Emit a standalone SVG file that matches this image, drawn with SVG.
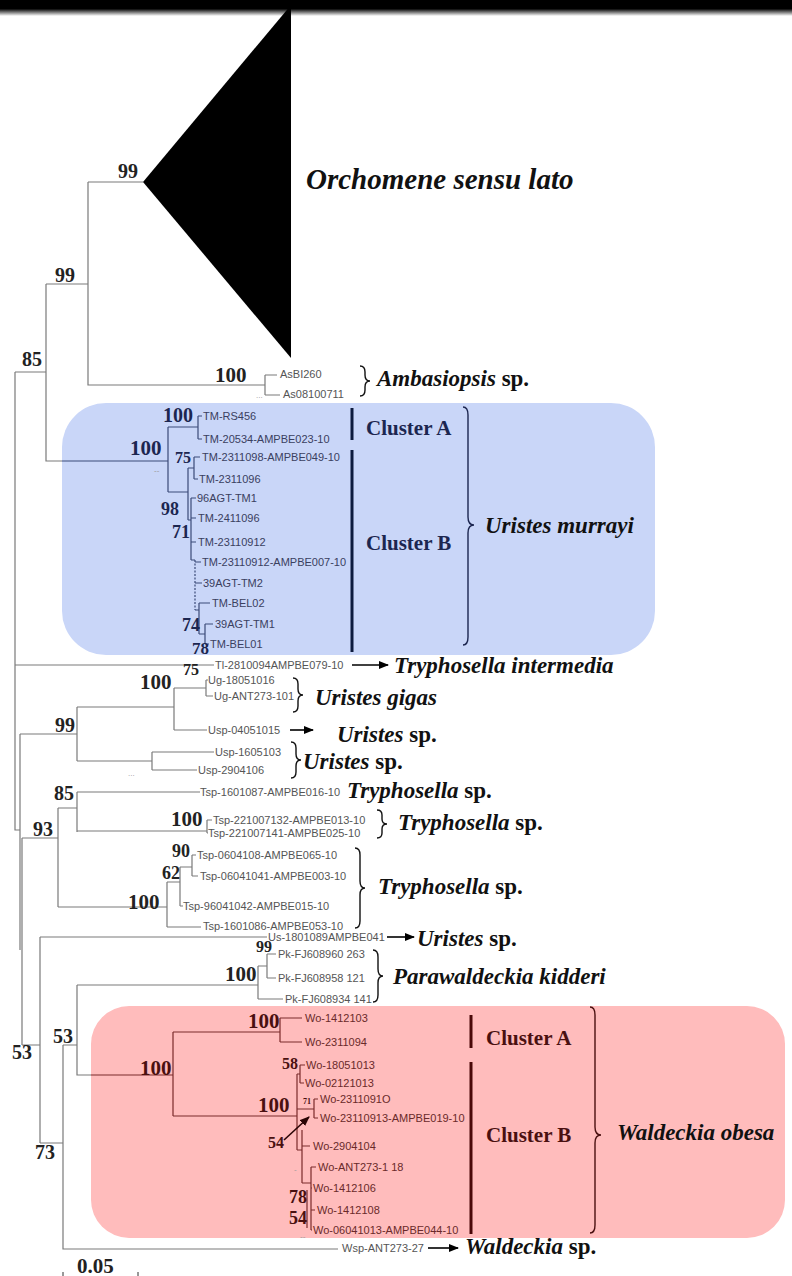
<svg xmlns="http://www.w3.org/2000/svg" width="792" height="1276" viewBox="0 0 792 1276">
<defs>
<linearGradient id="topbar" x1="0" y1="0" x2="0" y2="1">
<stop offset="0" stop-color="#000"/>
<stop offset="0.55" stop-color="#000"/>
<stop offset="1" stop-color="#fff"/>
</linearGradient>
<marker id="arr" markerWidth="10" markerHeight="8" refX="9" refY="4" orient="auto" markerUnits="userSpaceOnUse">
<path d="M0,0 L10,4 L0,8 z" fill="#000"/>
</marker>
<marker id="arr2" markerWidth="10" markerHeight="8" refX="9" refY="4" orient="auto" markerUnits="userSpaceOnUse">
<path d="M0,0 L10,4 L0,8 z" fill="#2a0505"/>
</marker>
</defs>
<style>
.br{fill:none;stroke:#7a7a7a;stroke-width:1.2}
.bb{fill:none;stroke:#3b4a78;stroke-width:1.2}
.bp{fill:none;stroke:#7b2b2b;stroke-width:1.2}
.tip{font-family:"Liberation Sans",Arial,sans-serif;font-size:11px;fill:#555}
.tipb{font-family:"Liberation Sans",Arial,sans-serif;font-size:11px;fill:#3a4060}
.tipp{font-family:"Liberation Sans",Arial,sans-serif;font-size:11px;fill:#6a2a2a}
.sup{font-family:"Liberation Serif","Times New Roman",serif;font-weight:bold;fill:#222}
.supb{font-family:"Liberation Serif","Times New Roman",serif;font-weight:bold;fill:#1c2650}
.supp{font-family:"Liberation Serif","Times New Roman",serif;font-weight:bold;fill:#4a1010}
.sp{font-family:"Liberation Serif","Times New Roman",serif;font-weight:bold;font-style:italic;font-size:23px;fill:#111}
.big{font-size:29px}
.up{font-style:normal}
.cl{font-family:"Liberation Serif","Times New Roman",serif;font-weight:bold;font-size:21px}
.brace{fill:none;stroke-width:1.4}
.arrow{stroke:#000;stroke-width:1.6;fill:none}
.dots{font-family:"Liberation Sans",Arial,sans-serif;font-size:8px;fill:#999}
</style>
<rect width="792" height="1276" fill="#fff"/>
<rect x="0" y="0" width="792" height="16" fill="url(#topbar)"/>

<!-- highlight boxes -->
<rect id="box-murrayi" x="62" y="403" width="593" height="252" rx="44" fill="#c9d6f8"/>
<rect id="box-obesa" x="91" y="1006" width="694" height="232" rx="38" fill="#ffbcbc"/>

<!-- connectors -->
<g id="connectors">
<g class="br">
<path d="M88 182 H143"/>
<path d="M88 182 V385 H265 M265 375 V395 M265 375 H277 M265 395 H280"/>
<path d="M46 284 H88 M46 284 V461 H62"/>
<path d="M15 372 H46 M15 372 V830 H20"/>
<path d="M15 665 H214"/>
<path d="M20 734 V950 M20 734 H77 M77 707 V761 M77 707 H174 M174 688 V730 M174 688 H206 M206 680 V696 M206 680 H208 M206 696 H213 M174 730 H207"/>
<path d="M77 761 H152 M152 752 V770 M152 752 H214 M152 770 H197"/>
<path d="M22 838 V1045 M22 838 H58 M58 808 V907 M58 808 H77 M77 792 V832 M77 792 H200 M77 831 H207 M207 820 V833 M207 820 H212 M207 833 H208"/>
<path d="M58 907 H167 M167 882 V927 M167 927 H201 M167 882 H180 M180 867 V906 M180 906 H183 M180 867 H192 M192 855 V876 M192 855 H196 M192 876 H198"/>
<path d="M22 1045 H40 M40 937 V1143 M40 937 H267 M40 1143 H63 M63 1045 V1249 H338 M63 1045 H77"/>
<path d="M77 985 V1075 H91 M77 985 H258 M258 966 V999 M258 966 H267 M267 954 V978 M267 954 H276 M267 978 H276 M258 999 H283"/>
</g>
<g class="bb">
<path d="M62 461 H168 M168 427 V492 M168 427 H198 M198 416 V439 M198 416 H202 M198 439 H202"/>
<path d="M168 492 H188 M188 468 V520 M188 468 H194 M194 457 V479 M194 457 H200 M194 479 H198"/>
<path d="M188 520 H191 M191 498 V560 M191 498 H196 M191 518 H196 M191 542 H196 M191 560 H195"/>
<path d="M195 560 V610" stroke-dasharray="2 1.5"/>
<path d="M195 562 H201 M195 583 H202 M195 610 H199 M199 603 V634 M199 603 H210 M199 634 H205 M205 624 V644 M205 624 H213 M205 644 H209"/>
</g>
<g class="bp">
<path d="M91 1075 H173 M173 1032 V1116 M173 1032 H280 M280 1018 V1042 M280 1018 H302 M280 1042 H302"/>
<path d="M173 1116 H297 M297 1074 V1150 M297 1074 H300 M300 1065 V1083 M300 1065 H305 M300 1083 H304"/>
<path d="M297 1109 H314 M314 1099 V1118 M314 1099 H318 M314 1118 H318"/>
<path d="M297 1150 H302 M302 1130 V1183 M302 1146 H310 M302 1183 H311 M311 1167 V1230 M311 1167 H316 M311 1188 H312 M311 1210 H315 M311 1230 H312 M307 1190 V1228"/>
</g>
<path d="M284 1140 L309 1117" stroke="#2a0505" stroke-width="1.6" marker-end="url(#arr2)"/>
<path class="arrow" d="M352 665 H388" marker-end="url(#arr)"/>
<path class="arrow" d="M290 730 H313" marker-end="url(#arr)"/>
<path class="arrow" d="M387 937 H414" marker-end="url(#arr)"/>
<path class="arrow" d="M428 1248 H458" marker-end="url(#arr)"/>
</g>

<!-- collapsed clade -->
<g id="orchomene">
<polygon points="143,182 291,5 291,358" fill="#000"/>
<text class="sp big" x="306" y="189">Orchomene sensu lato</text>
</g>

<g id="ambasiopsis">
<text class="tip" x="280" y="378">AsBI260</text>
<text class="tip" x="283" y="398">As08100711</text>
<path class="brace" stroke="#111" d="M360 366 Q365 366 365 372 L365 375 Q365 381 370 381 Q365 381 365 387 L365 390 Q365 396 360 396"/>
<text class="sp" x="377" y="386">Ambasiopsis <tspan class="up">sp.</tspan></text>
</g>

<g id="uristes-murrayi">
<text class="tipb" x="203" y="420">TM-RS456</text>
<text class="tipb" x="203" y="443">TM-20534-AMPBE023-10</text>
<text class="tipb" x="202" y="461">TM-2311098-AMPBE049-10</text>
<text class="tipb" x="199" y="483">TM-2311096</text>
<text class="tipb" x="197" y="502">96AGT-TM1</text>
<text class="tipb" x="198" y="522">TM-2411096</text>
<text class="tipb" x="198" y="546">TM-23110912</text>
<text class="tipb" x="202" y="566">TM-23110912-AMPBE007-10</text>
<text class="tipb" x="203" y="587">39AGT-TM2</text>
<text class="tipb" x="212" y="607">TM-BEL02</text>
<text class="tipb" x="215" y="628">39AGT-TM1</text>
<text class="tipb" x="210" y="648">TM-BEL01</text>
<line x1="352" y1="408" x2="352" y2="440" stroke="#0d1b3e" stroke-width="3"/>
<line x1="352" y1="450" x2="352" y2="652" stroke="#0d1b3e" stroke-width="3"/>
<text class="cl" x="366" y="435" fill="#1c2650">Cluster A</text>
<text class="cl" x="366" y="550" fill="#1c2650">Cluster B</text>
<path class="brace" stroke="#1c2650" d="M463 407 Q468 407 468 415 L468 517 Q468 525 474 525 Q468 525 468 533 L468 637 Q468 645 463 645"/>
<text class="sp" x="485" y="533" fill="#1c2650">Uristes murrayi</text>
</g>

<g id="tryphosella-intermedia">
<text class="tip" x="215" y="669">Tl-2810094AMPBE079-10</text>
<text class="sp" x="394" y="673">Tryphosella intermedia</text>
</g>

<g id="uristes-gigas">
<text class="tip" x="208" y="684">Ug-18051016</text>
<text class="tip" x="214" y="700">Ug-ANT273-101</text>
<path class="brace" stroke="#111" d="M293 678 Q298 678 298 684 L298 689 Q298 695 303 695 Q298 695 298 701 L298 706 Q298 712 293 712"/>
<text class="sp" x="315" y="705">Uristes gigas</text>
</g>

<g id="uristes-sp-1">
<text class="tip" x="208" y="734">Usp-04051015</text>
<text class="sp" x="337" y="742">Uristes <tspan class="up">sp.</tspan></text>
</g>

<g id="uristes-sp-2">
<text class="tip" x="215" y="756">Usp-1605103</text>
<text class="tip" x="198" y="774">Usp-2904106</text>
<path class="brace" stroke="#111" d="M291 742 Q296 742 296 748 L296 754 Q296 760 301 760 Q296 760 296 766 L296 772 Q296 778 291 778"/>
<text class="sp" x="303" y="769">Uristes <tspan class="up">sp.</tspan></text>
</g>

<g id="tryphosella-sp-1">
<text class="tip" x="200" y="796">Tsp-1601087-AMPBE016-10</text>
<text class="sp" x="347" y="798">Tryphosella <tspan class="up">sp.</tspan></text>
</g>

<g id="tryphosella-sp-2">
<text class="tip" x="213" y="824">Tsp-221007132-AMPBE013-10</text>
<text class="tip" x="208" y="837">Tsp-221007141-AMPBE025-10</text>
<path class="brace" stroke="#111" d="M377 810 Q382 810 382 815 L382 819 Q382 824 387 824 Q382 824 382 829 L382 833 Q382 838 377 838"/>
<text class="sp" x="398" y="830">Tryphosella <tspan class="up">sp.</tspan></text>
</g>

<g id="tryphosella-sp-3">
<text class="tip" x="197" y="859">Tsp-0604108-AMPBE065-10</text>
<text class="tip" x="200" y="880">Tsp-06041041-AMPBE003-10</text>
<text class="tip" x="183" y="910">Tsp-96041042-AMPBE015-10</text>
<text class="tip" x="203" y="930">Tsp-1601086-AMPBE053-10</text>
<path class="brace" stroke="#111" d="M355 848 Q360 848 360 855 L360 881 Q360 888 365 888 Q360 888 360 895 L360 921 Q360 928 355 928"/>
<text class="sp" x="378" y="894">Tryphosella <tspan class="up">sp.</tspan></text>
</g>

<g id="uristes-sp-3">
<text class="tip" x="268" y="941">Us-1801089AMPBE041</text>
<text class="sp" x="417" y="946">Uristes <tspan class="up">sp.</tspan></text>
</g>

<g id="parawaldeckia">
<text class="tip" x="278" y="958">Pk-FJ608960 263</text>
<text class="tip" x="278" y="982">Pk-FJ608958 121</text>
<text class="tip" x="285" y="1003">Pk-FJ608934 141</text>
<path class="brace" stroke="#111" d="M373 950 Q378 950 378 957 L378 969 Q378 976 383 976 Q378 976 378 983 L378 995 Q378 1002 373 1002"/>
<text class="sp" x="393" y="984">Parawaldeckia kidderi</text>
</g>

<g id="waldeckia-obesa">
<text class="tipp" x="305" y="1022">Wo-1412103</text>
<text class="tipp" x="305" y="1046">Wo-2311094</text>
<text class="tipp" x="306" y="1069">Wo-18051013</text>
<text class="tipp" x="305" y="1087">Wo-02121013</text>
<text class="tipp" x="320" y="1103">Wo-2311091O</text>
<text class="tipp" x="320" y="1122">Wo-23110913-AMPBE019-10</text>
<text class="tipp" x="313" y="1150">Wo-2904104</text>
<text class="tipp" x="318" y="1171">Wo-ANT273-1 18</text>
<text class="tipp" x="313" y="1192">Wo-1412106</text>
<text class="tipp" x="317" y="1214">Wo-1412108</text>
<text class="tipp" x="313" y="1234">Wo-06041013-AMPBE044-10</text>
<line x1="471" y1="1015" x2="471" y2="1048" stroke="#4a0808" stroke-width="3"/>
<line x1="471" y1="1062" x2="471" y2="1234" stroke="#4a0808" stroke-width="3"/>
<text class="cl" x="486" y="1045" fill="#4a1010">Cluster A</text>
<text class="cl" x="486" y="1142" fill="#4a1010">Cluster B</text>
<path class="brace" stroke="#4a1010" d="M590 1007 Q595 1007 595 1015 L595 1127 Q595 1135 601 1135 Q595 1135 595 1143 L595 1225 Q595 1233 590 1233"/>
<text class="sp" x="617" y="1140" fill="#4a1010">Waldeckia obesa</text>
</g>

<g id="waldeckia-sp">
<text class="tip" x="342" y="1252">Wsp-ANT273-27</text>
<text class="sp" x="465" y="1254">Waldeckia <tspan class="up">sp.</tspan></text>
</g>

<!-- support values -->
<g id="support">
<text class="sup" x="118" y="178" font-size="20">99</text>
<text class="sup" x="55" y="282" font-size="20">99</text>
<text class="sup" x="22" y="366" font-size="20">85</text>
<text class="sup" x="215" y="382" font-size="21">100</text>
<text class="supb" x="163" y="422" font-size="20">100</text>
<text class="supb" x="130" y="455" font-size="21">100</text>
<text class="supb" x="175" y="463" font-size="16">75</text>
<text class="supb" x="161" y="515" font-size="18">98</text>
<text class="supb" x="172" y="538" font-size="18">71</text>
<text class="supb" x="182" y="631" font-size="18">74</text>
<text class="supb" x="192" y="654" font-size="17">78</text>
<text class="sup" x="183" y="675" font-size="16">75</text>
<text class="sup" x="140" y="689" font-size="21">100</text>
<text class="sup" x="55" y="732" font-size="20">99</text>
<text class="sup" x="54" y="800" font-size="20">85</text>
<text class="sup" x="171" y="826" font-size="21">100</text>
<text class="sup" x="33" y="836" font-size="20">93</text>
<text class="sup" x="172" y="857" font-size="18">90</text>
<text class="sup" x="162" y="879" font-size="18">62</text>
<text class="sup" x="128" y="909" font-size="21">100</text>
<text class="sup" x="256" y="952" font-size="16">99</text>
<text class="sup" x="225" y="981" font-size="21">100</text>
<text class="sup" x="53" y="1043" font-size="20">53</text>
<text class="sup" x="12" y="1059" font-size="20">53</text>
<text class="sup" x="35" y="1159" font-size="20">73</text>
<text class="supp" x="248" y="1028" font-size="21">100</text>
<text class="supp" x="140" y="1075" font-size="21">100</text>
<text class="supp" x="282" y="1069" font-size="16">58</text>
<text class="supp" x="258" y="1112" font-size="21">100</text>
<text class="supp" x="303" y="1104" font-size="8">71</text>
<text class="supp" x="268" y="1148" font-size="16">54</text>
<text class="supp" x="289" y="1203" font-size="18">78</text>
<text class="supp" x="289" y="1224" font-size="18">54</text>
</g>

<g id="dots">
<text class="dots" x="256" y="398">...</text>
<text class="dots" x="154" y="473">--</text>
<text class="dots" x="128" y="776">...</text>
<text class="dots" x="294" y="1172">-</text>
<text class="dots" x="300" y="1239">--</text>
</g>

<g id="scale">
<text class="sup" x="77" y="1273" font-size="21">0.05</text>
<path d="M63 1272 V1276 M138 1272 V1276" stroke="#333" stroke-width="1"/>
</g>
</svg>
